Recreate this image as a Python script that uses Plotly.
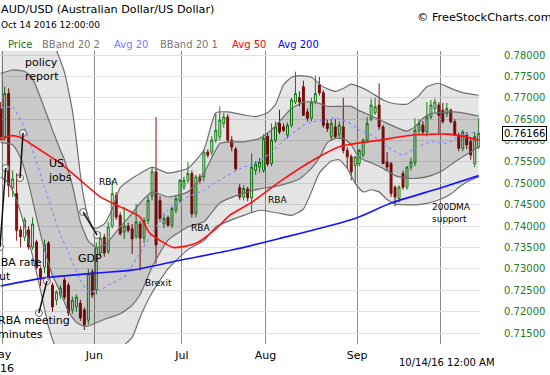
import plotly.graph_objects as go

# ---------------- data: daily bars (bar 0 = last April bar, bar 120 = Oct 14 2016) ----
open_ = [.7675,.7609,.7710,.7490,.7476,.7391,.7374,.7391,.7351,.7363,
         .7300,.7304,.7360,.7262,.7227,.7239,.7274,.7262,.7204,.7211,
         .7220,.7204,.7180,.7293,.7251,.7337,.7374,.7340,.7400,.7472,
         .7425,.7386,.7400,.7394,.7376,.7405,.7372,.7413,.7470,.7527,
         .7460,.7405,.7420,.7402,.7437,.7460,.7491,.7507,.7523,.7429,
         .7515,.7515,.7573,.7573,.7601,.7609,.7640,.7655,.7601,.7580,
         .7490,.7468,.7487,.7466,.7530,.7538,.7530,.7610,.7546,.7601,
         .7640,.7632,.7613,.7636,.7690,.7700,.7726,.7667,.7652,.7690,
         .7730,.7712,.7640,.7609,.7632,.7613,.7632,.7577,.7562,.7542,
         .7546,.7566,.7601,.7650,.7665,.7683,.7632,.7550,.7546,.7491,
         .7464,.7523,.7491,.7538,.7548,.7624,.7636,.7620,.7655,.7675,
         .7683,.7671,.7663,.7671,.7644,.7613,.7582,.7613,.7598,.7546,
         .7585]
high = [.7690,.7726,.7722,.7530,.7523,.7400,.7420,.7400,.7420,.7368,
        .7305,.7368,.7365,.7268,.7250,.7262,.7280,.7268,.7235,.7240,
        .7228,.7210,.7300,.7300,.7362,.7385,.7382,.7410,.7507,.7480,
        .7432,.7445,.7408,.7405,.7452,.7412,.7420,.7470,.7538,.7655,
        .7470,.7430,.7425,.7445,.7470,.7510,.7515,.7550,.7530,.7520,
        .7522,.7580,.7580,.7610,.7662,.7680,.7665,.7662,.7610,.7585,
        .7498,.7495,.7492,.7570,.7552,.7560,.7615,.7618,.7640,.7645,
        .7672,.7640,.7642,.7700,.7761,.7715,.7740,.7675,.7700,.7752,
        .7749,.7718,.7648,.7650,.7650,.7645,.7700,.7585,.7568,.7560,
        .7580,.7605,.7655,.7698,.7700,.7734,.7636,.7573,.7550,.7495,
        .7495,.7530,.7540,.7560,.7652,.7650,.7645,.7690,.7695,.7698,
        .7690,.7688,.7688,.7675,.7650,.7618,.7625,.7620,.7605,.7620,
        .7652]
low = [.7600,.7600,.7468,.7468,.7366,.7350,.7365,.7345,.7345,.7300,
       .7260,.7290,.7270,.7200,.7215,.7230,.7228,.7190,.7195,.7200,
       .7178,.7157,.7170,.7232,.7240,.7330,.7328,.7335,.7395,.7415,
       .7378,.7370,.7385,.7335,.7370,.7296,.7360,.7405,.7460,.7312,
       .7410,.7395,.7398,.7395,.7430,.7455,.7485,.7500,.7420,.7420,
       .7500,.7505,.7560,.7565,.7595,.7600,.7630,.7595,.7575,.7528,
       .7462,.7460,.7458,.7431,.7520,.7525,.7525,.7540,.7540,.7595,
       .7615,.7620,.7605,.7630,.7685,.7680,.7660,.7645,.7645,.7685,
       .7705,.7630,.7620,.7600,.7605,.7605,.7570,.7534,.7507,.7499,
       .7540,.7560,.7595,.7645,.7660,.7625,.7546,.7530,.7468,.7446,
       .7455,.7485,.7485,.7530,.7540,.7615,.7615,.7610,.7650,.7665,
       .7616,.7640,.7655,.7640,.7610,.7575,.7575,.7580,.7555,.7538,
       .7580]
close = [.7609,.7710,.7495,.7510,.7390,.7375,.7414,.7351,.7405,.7304,
         .7280,.7356,.7274,.7211,.7246,.7255,.7234,.7197,.7227,.7234,
         .7185,.7169,.7288,.7239,.7351,.7372,.7337,.7398,.7476,.7421,
         .7382,.7400,.7390,.7370,.7410,.7372,.7413,.7460,.7527,.7356,
         .7418,.7418,.7402,.7441,.7464,.7507,.7507,.7523,.7429,.7515,
         .7507,.7573,.7566,.7601,.7624,.7648,.7655,.7601,.7585,.7534,
         .7468,.7488,.7466,.7538,.7545,.7550,.7605,.7545,.7601,.7632,
         .7620,.7624,.7636,.7695,.7710,.7690,.7659,.7652,.7690,.7710,
         .7712,.7636,.7628,.7640,.7609,.7636,.7577,.7562,.7527,.7562,
         .7577,.7601,.7640,.7683,.7679,.7632,.7546,.7538,.7476,.7468,
         .7491,.7491,.7538,.7550,.7624,.7640,.7620,.7655,.7683,.7690,
         .7659,.7644,.7675,.7644,.7613,.7582,.7620,.7590,.7566,.7609,
         .7617]

# indicator lines: (bar index, value)
bb_up2_x = [0,3,6,8,10,12,14,16,18,19,20,21,22,23,24,26,28,30,33,35,38,42,47,51,54,57,61,64,67,69,71,73,75,78,81,84,86,88,90,93,96,99,102,105,107,110,113,116,120]
bb_up2_y = [.7840,.7850,.7845,.7840,.7838,.7835,.7810,.7760,.7670,.7600,.7520,.7460,.7420,.7400,.7395,.7405,.7440,.7490,.7512,.7523,.7538,.7524,.7535,.7578,.7665,.7667,.7660,.7656,.7665,.7685,.7730,.7748,.7752,.7748,.7725,.7715,.7722,.7732,.7726,.7712,.7695,.7686,.7685,.7705,.7726,.7734,.7722,.7712,.7706]
bb_up1_x = [0,3,6,8,10,12,14,16,18,20,22,24,26,28,30,33,35,38,42,47,51,53,55,58,61,65,68,70,73,76,79,82,85,88,90,93,96,99,102,104,106,108,111,114,117,120]
bb_up1_y = [.7757,.7765,.7762,.7745,.7700,.7650,.7600,.7555,.7495,.7410,.7365,.7350,.7355,.7375,.7398,.7430,.7454,.7480,.7468,.7480,.7524,.7560,.7593,.7597,.7597,.7605,.7625,.7645,.7675,.7690,.7690,.7680,.7680,.7680,.7670,.7658,.7645,.7632,.7622,.7632,.7652,.7663,.7666,.7667,.7663,.7657]
ma20_x = [0,3,6,8,11,13,15,17,20,22,25,28,31,35,38,42,47,51,55,61,64,68,72,77,81,84,87,90,94,97,101,104,108,112,115,120]
ma20_y = [.7676,.7678,.7630,.7578,.7491,.7433,.7380,.7337,.7274,.7246,.7251,.7267,.7281,.7337,.7384,.7438,.7468,.7484,.7508,.7538,.7547,.7573,.7608,.7641,.7648,.7653,.7644,.7625,.7608,.7585,.7566,.7582,.7597,.7594,.7608,.7623]
bb_lo1_x = [0,3,5,7,9,11,13,15,17,19,21,23,25,27,30,33,35,38,42,47,51,55,61,65,68,72,75,78,80,82,84,86,88,90,93,96,99,102,105,108,111,114,117,120]
bb_lo1_y = [.7595,.7590,.7560,.7500,.7420,.7345,.7285,.7245,.7200,.7175,.7165,.7170,.7178,.7185,.7195,.7215,.7240,.7304,.7367,.7398,.7410,.7454,.7477,.7487,.7491,.7500,.7510,.7535,.7560,.7595,.7605,.7605,.7590,.7560,.7548,.7535,.7518,.7512,.7512,.7518,.7530,.7550,.7568,.7585]
bb_lo2_x = [0,2,4,6,8,10,12,14,16,20,22,24,27,30,33,35,38,42,47,51,54,61,65,70,73,76,78,80,83,85,87,89,91,93,95,97,99,101,105,107,109,111,113,115,117,120]
bb_lo2_y = [.7515,.7500,.7460,.7400,.7330,.7250,.7165,.7110,.7070,.7050,.7080,.7100,.7110,.7115,.7140,.7187,.7244,.7300,.7345,.7366,.7398,.7425,.7437,.7430,.7425,.7440,.7480,.7524,.7552,.7555,.7535,.7500,.7480,.7485,.7480,.7462,.7452,.7450,.7450,.7453,.7458,.7465,.7475,.7490,.7503,.7515]
ma50_x = [0,2.3,4.8,9.9,14.9,19.9,24.9,30,35,37.5,43.3,45.8,49.3,54.3,57.6,62.6,70.1,78.4,85.2,95.2,103.5,112,117,120]
ma50_y = [.7601,.7611,.7608,.7578,.7547,.7508,.7469,.7445,.7421,.7383,.7350,.7352,.7361,.7396,.7426,.7453,.7504,.7554,.7586,.7601,.7613,.7615,.7608,.7601]
ma200_x = [0,11,25,33,45,58,70,89,98,110,120]
ma200_y = [.7260,.7279,.7291,.7297,.7320,.7344,.7371,.7418,.7454,.7488,.7518]

month_pos = [0.5, 23.5, 45.5, 66.5, 89.5, 110.5]
month_labels = ["", "Jun", "Jul", "Aug", "Sep", ""]
first_month_label = "May<br>2016"
y_ticks = [.715, .72, .725, .73, .735, .74, .745, .75, .755, .76, .765, .77, .775, .78]
last_price = 0.76166

# ---------------- figure -------------------------------------------------------------------
FONT = "DejaVu Sans, Verdana, sans-serif"
fig = go.Figure()
bars = list(range(len(close)))

band_line = dict(color="#6e6e6e", width=1.2, shape="spline", smoothing=0.5)
fig.add_trace(go.Scatter(x=bb_up2_x, y=bb_up2_y, mode="lines", line=band_line, hoverinfo="skip"))
fig.add_trace(go.Scatter(x=bb_lo2_x, y=bb_lo2_y, mode="lines", line=band_line, fill="tonexty",
                         fillcolor="rgba(0,0,0,0.10)", hoverinfo="skip"))
fig.add_trace(go.Scatter(x=bb_up1_x, y=bb_up1_y, mode="lines", line=band_line, hoverinfo="skip"))
fig.add_trace(go.Scatter(x=bb_lo1_x, y=bb_lo1_y, mode="lines", line=band_line, fill="tonexty",
                         fillcolor="rgba(0,0,0,0.12)", hoverinfo="skip"))
fig.add_trace(go.Scatter(x=ma20_x, y=ma20_y, mode="lines",
                         line=dict(color="#8c8cff", width=1.2, dash="3px,3px", shape="spline", smoothing=0.5)))
fig.add_trace(go.Scatter(x=ma50_x, y=ma50_y, mode="lines",
                         line=dict(color="#ff1010", width=1.6, shape="spline", smoothing=0.6)))
fig.add_trace(go.Scatter(x=ma200_x, y=ma200_y, mode="lines",
                         line=dict(color="#1414ff", width=1.6, shape="spline", smoothing=0.6)))

fig.add_trace(go.Candlestick(
    x=bars, open=open_, high=high, low=low, close=close,
    increasing=dict(line=dict(color="#138a13", width=1), fillcolor="rgba(0,0,0,0)"),
    decreasing=dict(line=dict(color="#8a1010", width=1), fillcolor="#8a1010"),
    whiskerwidth=0, hoverinfo="skip"))

# hand-drawn annotation lines with circle ends (data coordinates)
ann_lines = [((5.6, .76176), (4.85, .75124)),
             ((1.25, .75358), (-0.18, .73511)),
             ((11.6, .72716), (9.6, .71968)),
             ((20.7, .74329), (24.2, .73791))]
for (x0, y0), (x1, y1) in ann_lines:
    fig.add_shape(type="line", x0=x0, y0=y0, x1=x1, y1=y1, line=dict(color="#111", width=1.5))
    fig.add_trace(go.Scatter(x=[x0, x1], y=[y0, y1], mode="markers",
                             marker=dict(symbol="circle", size=7, color="rgba(255,255,255,0.6)",
                                         line=dict(color="#666", width=1)), hoverinfo="skip"))

def px(xp):
    return xp / 480.0
def py(yp):
    return (344.0 - yp) / 293.0

notes = [("policy<br>report", 5.52, .77668, 11), ("US<br>jobs", 11.37, .75311, 11),
         ("RBA", 24.1, .75038, 9), ("GDP", 18.9, .73231, 11),
         ("Brexit", 35.65, .72676, 9), ("RBA", 47.3, .73955, 9), ("RBA", 66.6, .74610, 9),
         ("200DMA<br>support", 107.8, .74298, 9)]
for txt, xx, yy, sz in notes:
    fig.add_annotation(x=xx, y=yy, xref="x", yref="y", text=txt, showarrow=False, xanchor="left",
                       yanchor="middle", align="left", font=dict(family=FONT, size=sz, color="#000"))
# notes that start left of the plot edge (placed in paper coordinates so they are not hidden)
edge_notes = [("RBA rate<br>cut", -9.5, 269.0), ("RBA meeting<br>minutes", -4.0, 327.8)]
for txt, xp, yp in edge_notes:
    fig.add_annotation(x=px(xp), y=py(yp), xref="paper", yref="paper", text=txt, showarrow=False,
                       xanchor="left", yanchor="middle", align="left",
                       font=dict(family=FONT, size=11, color="#000"))

# header texts (paper coords, plot area is 480 x 293 px, top at 51px)
fig.add_annotation(x=px(-1), y=py(9), xref="paper", yref="paper", xanchor="left", yanchor="middle",
                   showarrow=False, text="AUD/USD (Australian Dollar/US Dollar)",
                   font=dict(family=FONT, size=11.2, color="#000"))
fig.add_annotation(x=px(-1), y=py(25), xref="paper", yref="paper", xanchor="left", yanchor="middle",
                   showarrow=False, text="Oct 14 2016 12:00:00", font=dict(family=FONT, size=9, color="#000"))
fig.add_annotation(x=px(415), y=py(17), xref="paper", yref="paper", xanchor="left", yanchor="middle",
                   showarrow=False, text="© FreeStockCharts.com", font=dict(family=FONT, size=11.3, color="#000"))
legend_items = [("Price", "#1a6e1a", 6), ("BBand 20 2", "#777777", 40), ("Avg 20", "#7878ff", 112),
                ("BBand 20 1", "#777777", 158), ("Avg 50", "#ff0000", 230), ("Avg 200", "#0000ff", 276)]
for txt, col, xp in legend_items:
    fig.add_annotation(x=px(xp), y=py(44), xref="paper", yref="paper", xanchor="left", yanchor="middle",
                       showarrow=False, text=txt, font=dict(family=FONT, size=10, color=col))
fig.add_annotation(x=px(0), y=py(361.5), xref="paper", yref="paper", xanchor="center", yanchor="middle",
                   showarrow=False, text=first_month_label, font=dict(family=FONT, size=11, color="#000"))
fig.add_annotation(x=112.0, y=py(362), xref="x", yref="paper", xanchor="center", yanchor="middle",
                   showarrow=False, text="10/14/16 12:00 AM", font=dict(family=FONT, size=10, color="#000"))
fig.add_annotation(x=px(502), y=last_price, xref="paper", yref="y", xanchor="left", yanchor="middle",
                   showarrow=False, text="%.5f" % last_price, font=dict(family=FONT, size=10, color="#000"),
                   bgcolor="#fff", bordercolor="#000", borderwidth=1, borderpad=1)

fig.update_layout(
    width=550, height=375, margin=dict(l=0, r=70, t=51, b=31, autoexpand=False),
    paper_bgcolor="#fff", plot_bgcolor="#fff", showlegend=False,
    font=dict(family=FONT),
    xaxis=dict(range=[-0.176, 120.33], tickmode="array", tickvals=month_pos, ticktext=month_labels,
               showgrid=True, gridcolor="#8a8a8a", gridwidth=1, zeroline=False, ticks="",
               automargin=False, ticklabelstandoff=3,
               tickfont=dict(size=11, color="#000"), rangeslider=dict(visible=False), fixedrange=True),
    yaxis=dict(range=[0.71243, 0.78094], side="right", tickmode="array", tickvals=y_ticks,
               ticktext=["%.5f" % v for v in y_ticks], showgrid=True, gridcolor="#e2e2e2",
               zeroline=False, ticks="outside", ticklen=21, tickcolor="rgba(0,0,0,0)", automargin=False,
               tickfont=dict(size=10, color="#1f7a1f"), fixedrange=True),
)
fig.write_html("out.html", config={"displayModeBar": False, "staticPlot": True},
               post_script="document.body.style.margin='0px';")
